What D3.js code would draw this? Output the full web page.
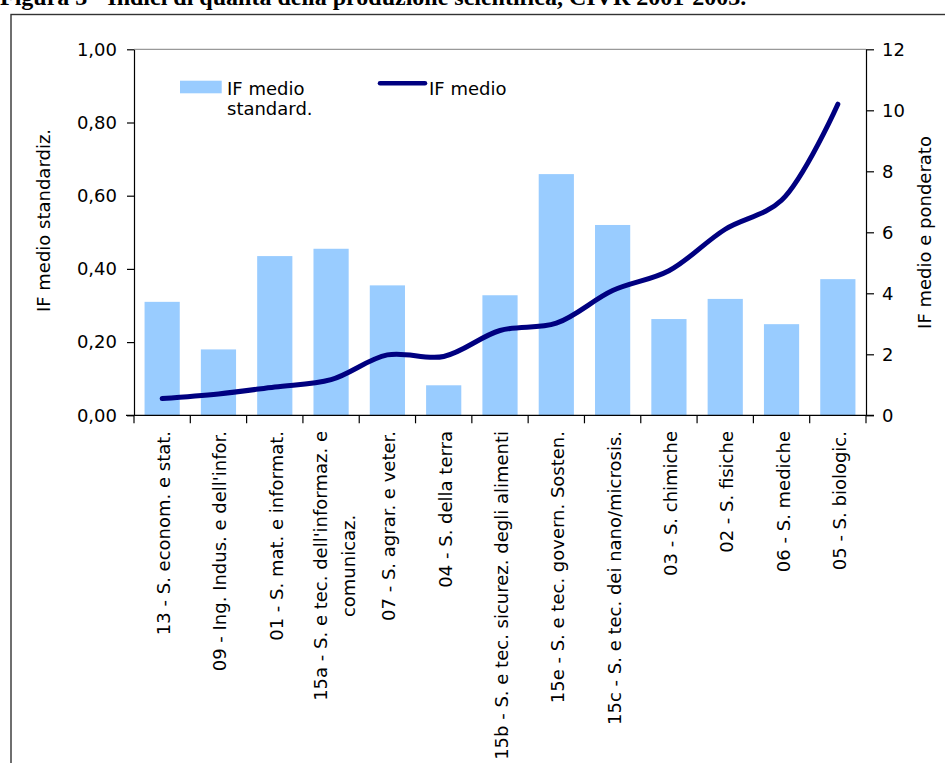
<!DOCTYPE html>
<html>
<head>
<meta charset="utf-8">
<script src="https://cdn.jsdelivr.net/npm/d3@7"></script>
<style>
  html, body { margin: 0; padding: 0; background: #fff; }
  svg { display: block; }
  text { font-family: "DejaVu Sans", sans-serif; fill: #000; }
</style>
</head>
<body>
<svg id="chart" width="945" height="763"></svg>
<script>
const categories = [
  "13 - S. econom. e stat.",
  "09 - Ing. Indus. e dell'infor.",
  "01 - S. mat. e informat.",
  "15a - S. e tec. dell'informaz. e\ncomunicaz.",
  "07 - S. agrar. e veter.",
  "04 - S. della terra",
  "15b - S. e tec. sicurez. degli alimenti",
  "15e - S. e tec. govern. Sosten.",
  "15c - S. e tec. dei nano/microsis.",
  "03 - S. chimiche",
  "02 - S. fisiche",
  "06 - S. mediche",
  "05 - S. biologic."
];
const ifMedioStandard = [0.31, 0.18, 0.435, 0.455, 0.355, 0.082, 0.328, 0.659, 0.52, 0.263, 0.318, 0.249, 0.372];
const ifMedio = [0.55, 0.70, 0.93, 1.17, 1.98, 1.93, 2.78, 3.02, 4.09, 4.74, 6.10, 7.05, 10.2];
const leftTicks = [0, 0.2, 0.4, 0.6, 0.8, 1.0];
const rightTicks = [0, 2, 4, 6, 8, 10, 12];
const titleText = "Figura 3 - Indici di qualità della produzione scientifica, CIVR 2001-2003.";
const leftTitle = "IF medio standardiz.";
const rightTitle = "IF medio e ponderato";
const legendBar = ["IF medio", "standard."];
const legendLine = "IF medio";

const svg = d3.select("#chart");
const L = 134, R = 866, T = 49.3, B = 415.3;

// page caption (cut at the top edge, as in the source) and frame
svg.append("text").attr("x", 0).attr("y", 5)
  .style("font-family", "'Liberation Serif', serif").style("font-weight", "bold")
  .style("font-size", "24px").text(titleText);
svg.append("rect").attr("x", 11).attr("y", 14.5).attr("width", 960).attr("height", 800)
  .attr("fill", "none").attr("stroke", "#333").attr("stroke-width", 1.4);

const x = d3.scaleBand().domain(categories).range([L, R]).paddingInner(0.375).paddingOuter(0.1875);
const yL = d3.scaleLinear().domain([0, 1]).range([B, T]);
const yR = d3.scaleLinear().domain([0, 12]).range([B, T]);

// plot-area top border
svg.append("line").attr("x1", L).attr("x2", R).attr("y1", T).attr("y2", T)
  .attr("stroke", "#999").attr("stroke-width", 1.2);

// bars
svg.append("g").selectAll("rect").data(categories).join("rect")
  .attr("x", d => x(d)).attr("width", x.bandwidth())
  .attr("y", (d, i) => yL(ifMedioStandard[i]))
  .attr("height", (d, i) => B - yL(ifMedioStandard[i]))
  .attr("fill", "#99CCFF");

// line
const line = d3.line()
  .x((d, i) => x(categories[i]) + x.bandwidth() / 2)
  .y(d => yR(d))
  .curve(d3.curveCatmullRom.alpha(0.5));
svg.append("path").datum(ifMedio).attr("d", line)
  .attr("fill", "none").attr("stroke", "#000080").attr("stroke-width", 5)
  .attr("stroke-linecap", "round").attr("stroke-linejoin", "round");

// axes
const fmt = d => d3.format(".2f")(d).replace(".", ",");
const gL = svg.append("g").attr("transform", `translate(${L},0)`)
  .call(d3.axisLeft(yL).tickValues(leftTicks).tickFormat(fmt).tickSize(7).tickSizeOuter(0).tickPadding(10));
const gR = svg.append("g").attr("transform", `translate(${R},0)`)
  .call(d3.axisRight(yR).tickValues(rightTicks).tickFormat(d3.format("d")).tickSize(8).tickSizeOuter(0).tickPadding(8));
[gL, gR].forEach(g => {
  g.selectAll("text").style("font-size", "18px").style("font-family", "'DejaVu Sans', sans-serif");
  g.selectAll("line, path").attr("stroke", "#000").attr("stroke-width", 1.2);
});

// x axis
const step = x.step(), off = (x.step() - x.bandwidth()) / 2;
const bounds = categories.map(c => x(c) - off).concat([x(categories[categories.length - 1]) - off + step]);
const gX = svg.append("g");
gX.append("line").attr("x1", L - 8).attr("x2", R + 8).attr("y1", B).attr("y2", B)
  .attr("stroke", "#000").attr("stroke-width", 1.2);
gX.selectAll("line.tk").data(bounds).join("line").attr("class", "tk")
  .attr("x1", d => d).attr("x2", d => d).attr("y1", B).attr("y2", B + 8)
  .attr("stroke", "#000").attr("stroke-width", 1.2);
const lab = gX.selectAll("text").data(categories).join("text")
  .attr("transform", d => `translate(${x(d) + x.bandwidth() / 2},431) rotate(-90)`)
  .attr("text-anchor", "end")
  .style("font-size", "18px");
lab.each(function(d) {
  const lines = d.split("\n");
  const el = d3.select(this);
  if (lines.length === 1) {
    el.append("tspan").attr("x", 0).attr("y", 8).text(lines[0]);
  } else {
    el.attr("text-anchor", "middle");
    el.append("tspan").attr("x", 0).attr("y", -4).text(lines[0]);
    el.append("tspan").attr("x", 0).attr("y", 24).text(lines[1]);
    const len = el.select("tspan").node().getComputedTextLength();
    el.selectAll("tspan").attr("x", -len / 2);
  }
});

// axis titles
svg.append("text").attr("transform", "translate(50,220.5) rotate(-90)")
  .attr("text-anchor", "middle").style("font-size", "18px").text(leftTitle);
svg.append("text").attr("transform", "translate(931,232.5) rotate(-90)")
  .attr("text-anchor", "middle").style("font-size", "18px").text(rightTitle);

// legend
svg.append("rect").attr("x", 180).attr("y", 80.7).attr("width", 41.7).attr("height", 12.6).attr("fill", "#99CCFF");
const lt = svg.append("text").style("font-size", "18px");
legendBar.forEach((s, i) => lt.append("tspan").attr("x", 227).attr("y", 95 + i * 20).text(s));
svg.append("line").attr("x1", 380).attr("x2", 425).attr("y1", 83.3).attr("y2", 83.3)
  .attr("stroke", "#000080").attr("stroke-width", 4.5).attr("stroke-linecap", "round");
svg.append("text").attr("x", 429).attr("y", 95).style("font-size", "18px").text(legendLine);
</script>
</body>
</html>
